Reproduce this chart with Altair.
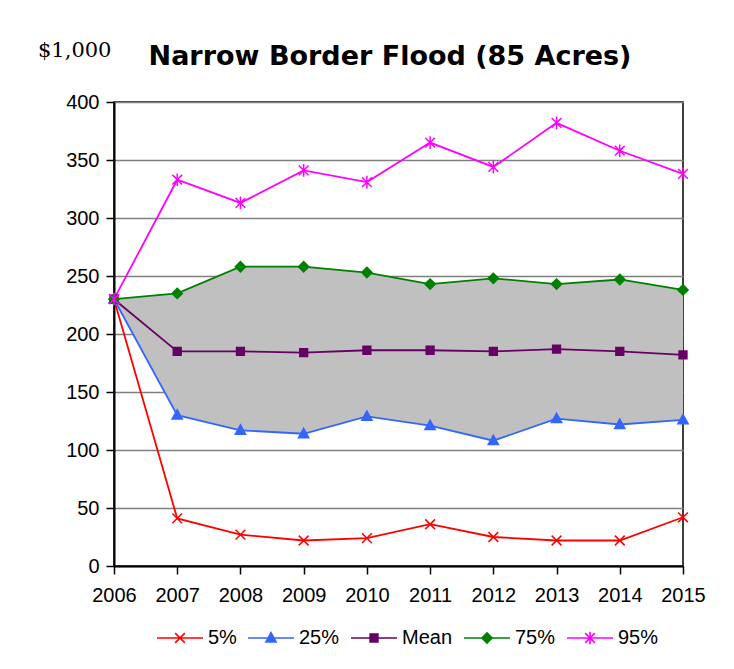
import altair as alt
import pandas as pd

years = list(range(2006, 2016))
p5 = [230, 41, 27, 22, 24, 36, 25, 22, 22, 42]
p25 = [230, 130, 117, 114, 129, 121, 108, 127, 122, 126]
mean = [230, 185, 185, 184, 186, 186, 185, 187, 185, 182]
p75 = [230, 235, 258, 258, 253, 243, 248, 243, 247, 238]
p95 = [230, 333, 313, 341, 331, 365, 344, 382, 358, 338]

series_names = ["5%", "25%", "Mean", "75%", "95%"]
series_colors = ["#FF0000", "#3366FF", "#660066", "#008000", "#FF00FF"]
y_ticks = list(range(0, 401, 50))
title_text = "Narrow Border Flood (85 Acres)"
unit_text = "$1,000"

# marker shapes for the data points
marker_paths = [
    "M-1,-1L1,1M-1,1L1,-1",
    "M0,-1.1L1.05,0.8L-1.05,0.8Z",
    "M-0.8,-0.8L0.8,-0.8L0.8,0.8L-0.8,0.8Z",
    "M0,-1.05L1.05,0L0,1.05L-1.05,0Z",
    "M-1,-1L1,1M-1,1L1,-1M0,-1.3L0,1.3",
]
# legend symbols: line with the marker in the middle
legend_paths = [
    "M-1,0L1,0M-0.21,-0.21L0.21,0.21M-0.21,0.21L0.21,-0.21",
    "M-1,0L1,0M0,-0.23L0.22,0.17L-0.22,0.17Z",
    "M-1,0L1,0M-0.17,-0.17L0.17,-0.17L0.17,0.17L-0.17,0.17Z",
    "M-1,0L1,0M0,-0.22L0.22,0L0,0.22L-0.22,0Z",
    "M-1,0L1,0M-0.21,-0.21L0.21,0.21M-0.21,0.21L0.21,-0.21M0,-0.27L0,0.27",
]

wide = pd.DataFrame({"year": years, "p5": p5, "p25": p25, "mean": mean, "p75": p75, "p95": p95})
rows = []
for name, vals in zip(series_names, [p5, p25, mean, p75, p95]):
    for yr, v in zip(years, vals):
        rows.append({"year": yr, "value": v, "series": name})
long = pd.DataFrame(rows)

xscale = alt.Scale(domain=[2006, 2015], nice=False, zero=False)
yscale = alt.Scale(domain=[0, 400], nice=False)

xaxis = alt.Axis(values=years, format="d", title=None, grid=False, tickSize=8,
                 tickColor="black", tickWidth=1.5, domainColor="black", domainWidth=2,
                 labelFont="Liberation Sans", labelFontSize=20, labelColor="black",
                 labelPadding=11, labelFlush=False, labelOverlap=False)
yaxis = alt.Axis(values=y_ticks, title=None, grid=True, gridColor="#808080", gridWidth=1.5,
                 tickSize=8, tickColor="black", tickWidth=1.5, domainColor="black",
                 domainWidth=2, labelFont="Liberation Sans", labelFontSize=20,
                 labelColor="black", labelPadding=7)

band = alt.Chart(wide).mark_area(color="#C0C0C0", opacity=1).encode(
    x=alt.X("year:Q", scale=xscale, axis=xaxis),
    y=alt.Y("p25:Q", scale=yscale, axis=yaxis),
    y2="p75:Q",
)

cscale = alt.Scale(domain=series_names, range=series_colors)

lines = alt.Chart(long).mark_line(strokeWidth=1.8).encode(
    x=alt.X("year:Q", scale=xscale),
    y=alt.Y("value:Q", scale=yscale),
    color=alt.Color("series:N", scale=cscale, legend=None),
)

points = alt.Chart(long).mark_point(filled=True, opacity=1, strokeWidth=1.5).encode(
    x=alt.X("year:Q", scale=xscale),
    y=alt.Y("value:Q", scale=yscale),
    color=alt.Color("series:N", scale=cscale, legend=None),
    stroke=alt.Stroke("series:N", scale=cscale, legend=None),
    shape=alt.Shape("series:N", scale=alt.Scale(domain=series_names, range=marker_paths), legend=None),
    size=alt.value(95),
)

leg = alt.Legend(orient="none", legendX=42, legendY=512, direction="horizontal", title=None,
                 labelFont="Liberation Sans", labelFontSize=20, labelColor="black",
                 symbolSize=2116, symbolStrokeWidth=1.6, labelOffset=4, columnPadding=7)

legend_layer = alt.Chart(long).transform_filter("datum.value < -1").mark_point(
    filled=True, opacity=1, strokeWidth=1.6
).encode(
    color=alt.Color("series:N", scale=cscale, legend=leg),
    stroke=alt.Stroke("series:N", scale=cscale, legend=leg),
    shape=alt.Shape("series:N", scale=alt.Scale(domain=series_names, range=legend_paths), legend=leg),
    size=alt.value(2116),
)

title_mark = alt.Chart(pd.DataFrame({"label": [title_text]})).mark_text(
    font="DejaVu Sans", fontWeight="bold", fontSize=27, align="center",
    baseline="alphabetic", color="black"
).encode(text="label:N", x=alt.value(276), y=alt.value(-37))

unit_mark = alt.Chart(pd.DataFrame({"label": [unit_text]})).mark_text(
    font="DejaVu Serif", fontSize=21, align="left", baseline="alphabetic", color="black"
).encode(text="label:N", x=alt.value(-76), y=alt.value(-45))

chart = alt.layer(band, lines, points, legend_layer, title_mark, unit_mark).resolve_scale(
    color="independent", stroke="independent", shape="independent"
).properties(
    width=569, height=464,
    autosize=alt.AutoSizeParams(type="none"),
    padding={"left": 106, "top": 94, "right": 40, "bottom": 100},
    background="white",
).configure_view(stroke="black", strokeWidth=1.5)

chart.save("out.html", embed_options={"renderer": "svg", "actions": False})
